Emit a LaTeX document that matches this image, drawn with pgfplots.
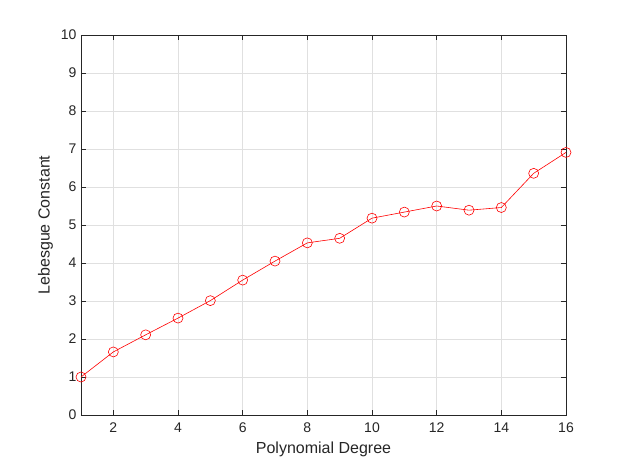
\documentclass[border=0pt]{standalone}
\usepackage{fontspec}
\setmainfont{Liberation Sans}
\usepackage{pgfplots}
\pgfplotsset{compat=1.18}
\definecolor{axgray}{rgb}{0.15,0.15,0.15}
\definecolor{gridgray}{rgb}{0.88,0.88,0.88}
\begin{document}
\begin{tikzpicture}
\useasboundingbox (-81pt,-52pt) rectangle (542pt,415pt);
\begin{axis}[
    at={(0pt,0pt)}, anchor=south west,
    scale only axis,
    width=485pt, height=380pt,
    xmin=1, xmax=16,
    ymin=0, ymax=10,
    xtick={2,4,...,16},
    ytick={0,1,...,10},
    grid=major,
    major grid style={gridgray, line width=0.6pt},
    axis line style={axgray, line width=0.6pt},
    tick style={axgray, line width=0.6pt},
    tick align=inside,
    major tick length=5pt,
    ticklabel style={font=\fontsize{14}{16}\selectfont, text=axgray},
    xticklabel style={yshift=-4pt},
    yticklabel style={xshift=-1pt},
    /pgf/number format/assume math mode=true,
    xlabel={Polynomial Degree},
    ylabel={Lebesgue Constant},
    label style={font=\fontsize{16}{18}\selectfont, text=axgray},
    xlabel style={yshift=-3pt},
    ylabel style={yshift=1pt},
]
\addplot[color=red, line width=0.6pt, mark=o, mark size=5pt, mark options={line width=0.6pt}] coordinates {
(1,1.00) (2,1.66) (3,2.11) (4,2.55) (5,3.01) (6,3.55) (7,4.05) (8,4.53)
(9,4.65) (10,5.18) (11,5.34) (12,5.50) (13,5.39) (14,5.46) (15,6.36) (16,6.91)
};
\end{axis}
\end{tikzpicture}
\end{document}
